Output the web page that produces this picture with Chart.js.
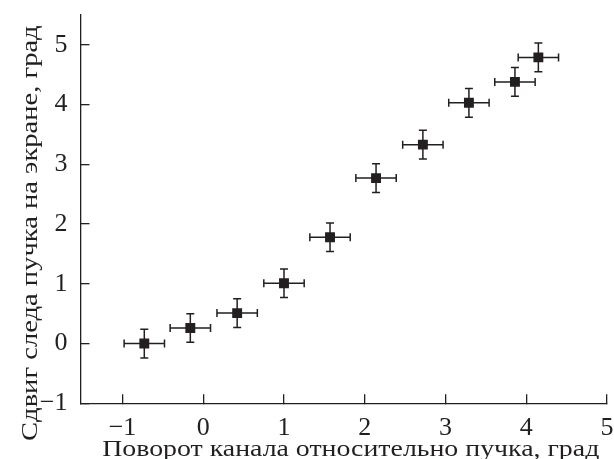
<!DOCTYPE html>
<html>
<head>
<meta charset="utf-8">
<script src="https://cdn.jsdelivr.net/npm/chart.js@4"></script>
<style>
  html, body { margin: 0; padding: 0; background: #fff; }
  canvas { display: block; }
</style>
</head>
<body>
<canvas id="chart" width="614" height="459"></canvas>
<script>
// Data
const xValues = [-0.73, -0.16, 0.42, 1.0, 1.57, 2.14, 2.72, 3.29, 3.86, 4.15];
const yValues = [0.0, 0.26, 0.51, 1.01, 1.78, 2.77, 3.33, 4.03, 4.38, 4.79];
const xErrors = [0.25, 0.25, 0.25, 0.25, 0.25, 0.25, 0.25, 0.25, 0.25, 0.25];
const yErrors = [0.24, 0.24, 0.24, 0.24, 0.24, 0.24, 0.24, 0.24, 0.24, 0.24];
const xTitle = 'Поворот канала относительно пучка, град';
const yTitle = 'Сдвиг следа пучка на экране, град';

const ink = '#231f20';
const serif = "'Liberation Serif', 'Times New Roman', serif";

const points = xValues.map((x, i) => ({ x, y: yValues[i] }));

// Error bars with small caps, drawn under the markers
const errorBars = {
  id: 'errorBars',
  beforeDatasetsDraw(chart) {
    const { ctx, scales: { x, y } } = chart;
    const cap = 4;
    ctx.save();
    ctx.strokeStyle = ink;
    ctx.lineWidth = 1.5;
    xValues.forEach((xv, i) => {
      const yv = yValues[i];
      const px = x.getPixelForValue(xv);
      const py = y.getPixelForValue(yv);
      const x0 = x.getPixelForValue(xv - xErrors[i]);
      const x1 = x.getPixelForValue(xv + xErrors[i]);
      const y0 = y.getPixelForValue(yv - yErrors[i]);
      const y1 = y.getPixelForValue(yv + yErrors[i]);
      ctx.beginPath();
      ctx.moveTo(x0, py); ctx.lineTo(x1, py);
      ctx.moveTo(x0, py - cap); ctx.lineTo(x0, py + cap);
      ctx.moveTo(x1, py - cap); ctx.lineTo(x1, py + cap);
      ctx.moveTo(px, y0); ctx.lineTo(px, y1);
      ctx.moveTo(px - cap, y0); ctx.lineTo(px + cap, y0);
      ctx.moveTo(px - cap, y1); ctx.lineTo(px + cap, y1);
      ctx.stroke();
    });
    ctx.restore();
  }
};

// Axis titles; the original typeface is a little wider than Times, so stretch it
const axisTitles = {
  id: 'axisTitles',
  afterDraw(chart) {
    const { ctx, chartArea } = chart;
    ctx.save();
    ctx.fillStyle = ink;
    ctx.font = '24px ' + serif;
    ctx.textAlign = 'center';
    ctx.textBaseline = 'alphabetic';

    ctx.save();
    ctx.translate((chartArea.left + chartArea.right) / 2 + 7, chart.height - 3);
    ctx.scale(1.16, 1);
    ctx.fillText(xTitle, 0, 0);
    ctx.restore();

    ctx.translate(37, (chartArea.top + chartArea.bottom) / 2 + 24);
    ctx.rotate(-Math.PI / 2);
    ctx.scale(1.19, 1);
    ctx.fillText(yTitle, 0, 0);
    ctx.restore();
  }
};

const tickLabel = (v) => String(v).replace('-', '\u2212');

// keep the plot area where the figure has it: no extra label padding
const clearPadding = (s) => {
  s.paddingLeft = 0; s.paddingRight = 0;
  s.paddingTop = 0; s.paddingBottom = 0;
};

new Chart(document.getElementById('chart'), {
  type: 'scatter',
  data: {
    datasets: [{
      data: points,
      pointStyle: 'rect',
      pointRadius: 7,
      pointHoverRadius: 7,
      backgroundColor: ink,
      borderWidth: 0,
      showLine: false,
    }]
  },
  options: {
    responsive: false,
    animation: false,
    events: [],
    layout: { padding: { top: 15, right: 5, left: 0, bottom: 0 } },
    scales: {
      x: {
        type: 'linear',
        min: -1.52,
        max: 5,
        afterFit: (s) => { s.height = 55.7; clearPadding(s); },
        border: { display: true, color: ink, width: 1.3 },
        grid: { display: true, drawOnChartArea: false, drawTicks: true, tickLength: -9, color: ink, lineWidth: 1.3 },
        ticks: {
          stepSize: 1,
          includeBounds: false,
          padding: 18,
          color: ink,
          font: { family: serif, size: 26 },
          callback: tickLabel,
        },
      },
      y: {
        type: 'linear',
        min: -1,
        max: 5.5,
        afterFit: (s) => { s.width = 80.5; clearPadding(s); },
        border: { display: true, color: ink, width: 1.3 },
        grid: { display: true, drawOnChartArea: false, drawTicks: true, tickLength: -9, color: ink, lineWidth: 1.3 },
        ticks: {
          stepSize: 1,
          includeBounds: false,
          padding: 22,
          color: ink,
          font: { family: serif, size: 26 },
          callback: tickLabel,
        },
      }
    },
    plugins: {
      legend: { display: false },
      tooltip: { enabled: false },
    }
  },
  plugins: [errorBars, axisTitles]
});
</script>
</body>
</html>
